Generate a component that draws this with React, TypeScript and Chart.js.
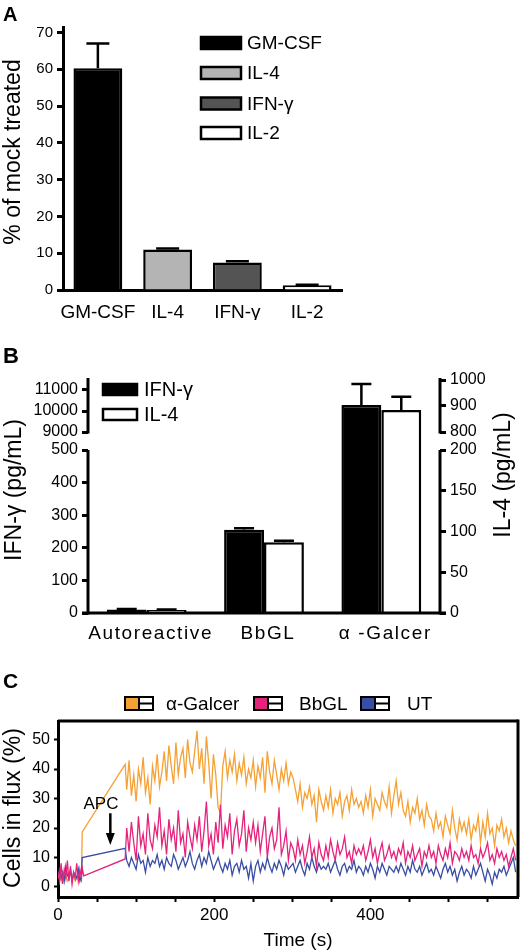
import React, { useEffect, useRef } from "react";
import { Chart, registerables } from "chart.js";

Chart.register(...registerables);

const FONT = "'Liberation Sans', Arial, Helvetica, sans-serif";
Chart.defaults.font.family = FONT;
Chart.defaults.color = "#000";

/* ---------------- Panel A data ---------------- */
const aCategories = ["GM-CSF", "IL-4", "IFN-γ", "IL-2"];
const aValues = [60.3, 11.0, 7.5, 1.3];
const aErrors = [6.7, 0.3, 0.3, 0.1];
const aYTicks = [0, 10, 20, 30, 40, 50, 60, 70];
const aColors = ["#000000", "#b4b4b4", "#545454", "#ffffff"];

/* ---------------- Panel B data ---------------- */
const bCategories = ["Autoreactive", "BbGL", "α -Galcer"];
const bSeries = ["IFN-γ", "IL-4"];
const bIfn = [11, 255, 10290];
const bIfnErr = [1, 5, 1000];
const bIl4 = [3.7, 86.7, 885];
const bIl4Err = [0.5, 2, 51];
const bLeftTicks = [0, 100, 200, 300, 400, 500, 9000, 10000, 11000];
const bRightTicks = [0, 50, 100, 150, 200, 800, 900, 1000];

/* ---------------- Panel C data ---------------- */
const cSeries = ["α-Galcer", "BbGL", "UT"];
const cXTicks = [0, 50, 100, 150, 200, 250, 300, 350, 400, 450, 500, 550];
const cXTickLabels = ["0", "", "", "", "200", "", "", "", "400", "", "", ""];
const cYTicks = [0, 10, 20, 30, 40, 50];
const baselineStep = 2; // s, samples from t = 0
const responseStart = 88; // s
const responseStep = 3; // s

const galBase = [3, 4, 2, 5, 3, 4, 2, 3, 5, 3, 4, 2, 3, 4, 3, 2];
const bbBase = [5, 2, 8, 1, 6, 3, 9, 2, 7, 1, 5, 3, 8, 2, 6, 3];
const utBase = [4, 6, 3, 5, 2, 7, 4, 3, 6, 2, 5, 4, 3, 6, 2, 4];

const galApcTimes = [31, 86];
const galApcValues = [18.7, 41.6];
const bbApcTimes = [31, 33, 86];
const bbApcValues = [6.5, 3.8, 9.5];
const utApcTimes = [31, 86];
const utApcValues = [10, 13.1];

const galResp = [
  33, 43, 31, 38, 29, 40, 35, 44, 32, 37, 28, 41, 36, 45, 34,
  39, 46, 36, 48, 41, 35, 49, 38, 44, 47, 37, 50, 42, 39, 46,
  53, 40, 47, 35, 51, 42, 30, 45, 38, 27,
  25, 41, 46, 37, 43, 39, 45, 36, 42, 38, 44, 35, 40, 37, 43,
  34, 41, 37, 44, 32, 46, 39, 35, 43, 38, 33, 40, 36, 42, 35, 39,
  37, 33, 29, 35, 27, 32, 30, 34, 28, 31, 22, 33, 29, 26,
  31, 27, 33, 25, 30, 28, 32, 24, 29, 31, 26, 33, 28, 30, 27,
  29, 25, 31, 27, 33, 24, 30, 28, 26, 32, 29, 27, 34, 25, 31,
  36, 28, 32, 26, 24, 29, 22, 27, 25, 30, 23, 26, 21, 28, 24,
  23, 19, 25, 20, 22, 17, 24, 21, 18, 26, 20, 16, 23, 19, 22,
  18, 23, 16, 21, 19, 24, 15, 22, 17, 25, 18, 20, 14, 21, 19,
  23, 17, 20, 15, 19, 16, 14,
];
const bbResp = [
  20, 12, 22, 15, 9, 24, 14, 18, 11, 25, 16, 13, 21, 17, 27,
  14, 19, 11, 23, 16, 20, 12, 26, 15, 18, 10, 22, 17, 13, 21,
  16, 24, 12, 19, 29, 14, 18, 11, 22, 15,
  28, 13, 21, 17, 25, 11, 19, 23, 14, 18, 26, 12, 20, 16, 22,
  15, 21, 12, 18, 24, 10, 17, 20, 13, 16, 27, 11, 14, 19, 9, 15,
  13, 9, 16, 11, 14, 8, 12, 17, 10, 13, 7, 15, 11, 9,
  14, 10, 16, 12, 9, 15, 11, 13, 17, 10, 12, 8, 14, 11, 13,
  11, 14, 9, 12, 16, 10, 13, 8, 12, 15, 9, 11, 14, 10, 12,
  9, 13, 11, 15, 8, 12, 10, 14, 9, 11, 13, 7, 12, 10, 14,
  10, 12, 8, 14, 11, 9, 13, 10, 15, 8, 12, 11, 9, 13, 10,
  12, 9, 14, 10, 11, 8, 13, 10, 12, 15, 9, 11, 8, 13, 10,
  12, 9, 11, 7, 10, 13, 9,
];
const utResp = [
  9, 7, 10, 8, 6, 11, 8, 9, 5, 10, 7, 9, 8, 11, 7,
  9, 6, 10, 8, 7, 11, 9, 6, 8, 10, 7, 9, 12, 8, 6,
  9, 11, 7, 10, 8, 12, 9, 6, 8, 10,
  7, 5, 8, 6, 9, 4, 7, 8, 5, 9, 6, 7, 3, 8, 2,
  7, 9, 5, 8, 6, 10, 7, 5, 8, 6, 9, 7, 4, 8, 6, 7,
  8, 5, 7, 9, 6, 4, 8, 6, 10, 7, 5, 8, 6, 7,
  6, 8, 5, 7, 9, 6, 4, 7, 8, 5, 7, 6, 9, 5, 7,
  6, 4, 7, 5, 8, 6, 3, 7, 5, 8, 6, 4, 7, 6, 5,
  7, 5, 8, 6, 4, 7, 5, 9, 6, 5, 7, 4, 6, 8, 5,
  6, 4, 7, 5, 3, 6, 8, 5, 7, 4, 6, 2, 5, 7, 4,
  6, 5, 3, 7, 4, 6, 8, 5, 2, 6, 4, 1, 5, 3, 6,
  5, 7, 4, 6, 8, 10, 5,
];

// APC annotation (data units)
const apcLabel = "APC";
const apcLabelTime = 55;
const apcLabelValue = 28;
const apcArrowTime = 67;
const apcArrowFrom = 25;
const apcArrowTo = 14.2;

/* ---------------- styles ---------------- */
const cColors = ["#F5A134", "#E5237C", "#3A4DA5"];
const cOrder = [2, 0, 1];

/* ---------------- helpers ---------------- */
// Panel B broken axis: virtual scale positions (px above baseline)
const B_LOW_TOP = 163;
const B_UP_BOTTOM = 181;
const B_VMAX = 235;
const leftToV = (v: number) =>
  v <= 500 ? (v / 500) * B_LOW_TOP : B_UP_BOTTOM + ((v - 9000) / 1000) * 21;
const rightToV = (v: number) =>
  v <= 200 ? (v / 200) * B_LOW_TOP : B_UP_BOTTOM + ((v - 800) / 100) * 26;

function buildSeries(base: number[], apcT: number[], apcV: number[], resp: number[]) {
  const pts: { x: number; y: number }[] = [];
  base.forEach((v, i) => pts.push({ x: i * baselineStep, y: v }));
  apcT.forEach((t, i) => pts.push({ x: t, y: apcV[i] }));
  resp.forEach((v, i) => pts.push({ x: responseStart + i * responseStep, y: v }));
  return pts;
}

type TextItem = { text: string; x: number; y: number; rot?: number; size: number; align?: CanvasTextAlign; baseline?: CanvasTextBaseline };
const textPlugin = (id: string, items: TextItem[]) => ({
  id,
  afterDraw(chart: any) {
    const ctx = chart.ctx as CanvasRenderingContext2D;
    items.forEach((it) => {
      ctx.save();
      ctx.translate(it.x, it.y);
      ctx.rotate(it.rot || 0);
      ctx.font = `${it.size}px ${FONT}`;
      ctx.fillStyle = "#000";
      ctx.textAlign = it.align || "center";
      ctx.textBaseline = it.baseline || "alphabetic";
      ctx.fillText(it.text, 0, 0);
      ctx.restore();
    });
  },
});

const errorBarPlugin = {
  id: "errbars",
  afterDatasetsDraw(chart: any) {
    const ctx = chart.ctx as CanvasRenderingContext2D;
    chart.data.datasets.forEach((ds: any, di: number) => {
      if (!ds.errTop) return;
      const meta = chart.getDatasetMeta(di);
      const scale = chart.scales[meta.yAxisID];
      meta.data.forEach((bar: any, i: number) => {
        const top = ds.errTop[i];
        if (top == null) return;
        const yTop = scale.getPixelForValue(top);
        const cap = ds.errCap || 20;
        ctx.save();
        ctx.strokeStyle = "#000";
        ctx.lineWidth = 2.5;
        ctx.beginPath();
        ctx.moveTo(bar.x, bar.y);
        ctx.lineTo(bar.x, yTop);
        ctx.moveTo(bar.x - cap / 2, yTop);
        ctx.lineTo(bar.x + cap / 2, yTop);
        ctx.stroke();
        ctx.restore();
      });
    });
  },
};

function line(ctx: CanvasRenderingContext2D, x1: number, y1: number, x2: number, y2: number) {
  ctx.beginPath();
  ctx.moveTo(x1, y1);
  ctx.lineTo(x2, y2);
  ctx.stroke();
}

/* ---------------- Panel A ---------------- */
function makeA(canvas: HTMLCanvasElement) {
  const legendA = {
    id: "legendA",
    afterDraw(chart: any) {
      const ctx = chart.ctx as CanvasRenderingContext2D;
      const ds = chart.data.datasets[0];
      const tops = [37, 67, 97.5, 127];
      chart.data.labels.forEach((lab: string, i: number) => {
        ctx.save();
        ctx.fillStyle = ds.backgroundColor[i];
        ctx.fillRect(201, tops[i], 40, 12);
        ctx.strokeStyle = "#000";
        ctx.lineWidth = 2.5;
        ctx.strokeRect(201, tops[i], 40, 12);
        ctx.fillStyle = "#000";
        ctx.font = `19px ${FONT}`;
        ctx.textAlign = "left";
        ctx.textBaseline = "middle";
        ctx.fillText(lab, 247, tops[i] + 7);
        ctx.restore();
      });
    },
  };
  return new Chart(canvas, {
    type: "bar",
    data: {
      labels: aCategories,
      datasets: [
        {
          data: aValues,
          backgroundColor: aColors,
          borderColor: "#000",
          borderWidth: 2.5,
          barPercentage: 0.7,
          categoryPercentage: 1,
          errTop: aValues.map((v, i) => v + aErrors[i]),
          errCap: 23,
        } as any,
      ],
    },
    options: {
      responsive: false,
      animation: false,
      layout: { padding: { left: 0, right: 178, top: 27, bottom: 0 } },
      plugins: { legend: { display: false }, tooltip: { enabled: false } },
      scales: {
        x: {
          grid: { display: false, drawTicks: false },
          border: { display: true, color: "#000", width: 3 },
          ticks: { color: "#000", font: { size: 19 }, padding: 11, autoSkip: false, maxRotation: 0 },
          afterFit: (s: any) => {
            s.height = 30;
          },
        },
        y: {
          min: 0,
          max: 71.5,
          afterBuildTicks: (s: any) => {
            s.ticks = aYTicks.map((v) => ({ value: v }));
          },
          grid: { drawOnChartArea: false, drawTicks: true, tickLength: 6, tickWidth: 3, color: "#000" },
          border: { display: true, color: "#000", width: 3 },
          ticks: { color: "#000", font: { size: 15 }, padding: 4, autoSkip: false },
          afterFit: (s: any) => {
            s.width = 63;
          },
        },
      },
    },
    plugins: [
      errorBarPlugin,
      legendA,
      textPlugin("titlesA", [{ text: "% of mock treated", x: 20, y: 152, rot: -Math.PI / 2, size: 23 }]),
    ],
  });
}

/* ---------------- Panel B ---------------- */
function makeB(canvas: HTMLCanvasElement) {
  const brokenAxes = {
    id: "brokenAxes",
    afterDraw(chart: any) {
      const ctx = chart.ctx as CanvasRenderingContext2D;
      const { chartArea } = chart;
      const yL = chart.scales.yL;
      ctx.save();
      ctx.strokeStyle = "#000";
      ctx.lineWidth = 3;
      const segs = [
        [0, B_LOW_TOP],
        [B_UP_BOTTOM, B_VMAX],
      ];
      segs.forEach(([a, b]) => {
        line(ctx, chartArea.left, yL.getPixelForValue(a) + 1.5, chartArea.left, yL.getPixelForValue(b));
        line(ctx, chartArea.right, yL.getPixelForValue(a) + 1.5, chartArea.right, yL.getPixelForValue(b));
      });
      line(ctx, chartArea.left - 6, chartArea.bottom, chartArea.right + 6, chartArea.bottom);
      ctx.restore();
    },
  };
  const categoryLabels = {
    id: "categoryLabelsB",
    afterDraw(chart: any) {
      const ctx = chart.ctx as CanvasRenderingContext2D;
      const xs = chart.scales.x;
      ctx.save();
      ctx.fillStyle = "#000";
      ctx.font = `19px ${FONT}`;
      (ctx as any).letterSpacing = "1.6px";
      ctx.textAlign = "center";
      ctx.textBaseline = "alphabetic";
      chart.data.labels.forEach((lab: string, i: number) => {
        ctx.fillText(lab, xs.getPixelForTick(i) + 4, chart.chartArea.bottom + 26);
      });
      ctx.restore();
    },
  };
  const legendB = {
    id: "legendB",
    afterDraw(chart: any) {
      const ctx = chart.ctx as CanvasRenderingContext2D;
      const tops = [64, 89];
      chart.data.datasets.forEach((ds: any, i: number) => {
        ctx.save();
        ctx.fillStyle = ds.backgroundColor;
        ctx.fillRect(103, tops[i], 34, 11);
        ctx.strokeStyle = "#000";
        ctx.lineWidth = 2.5;
        ctx.strokeRect(103, tops[i], 34, 11);
        ctx.fillStyle = "#000";
        ctx.font = `20px ${FONT}`;
        ctx.textAlign = "left";
        ctx.textBaseline = "middle";
        ctx.fillText(ds.label, 144, tops[i] + 6.5);
        ctx.restore();
      });
    },
  };
  const yCommon = (ticks: number[], map: (v: number) => number, width: number, position: "left" | "right") => ({
    position,
    min: 0,
    max: B_VMAX,
    afterBuildTicks: (s: any) => {
      s.ticks = ticks.map((v) => ({ value: map(v) }));
    },
    ticks: {
      autoSkip: false,
      color: "#000",
      font: { size: 16 },
      padding: 4,
      callback: (_v: any, i: number) => String(ticks[i]),
    },
    grid: { drawOnChartArea: false, drawTicks: true, tickLength: 6, tickWidth: 3, color: "#000" },
    border: { display: false },
    afterFit: (s: any) => {
      s.width = width;
    },
  });
  return new Chart(canvas, {
    type: "bar",
    data: {
      labels: bCategories,
      datasets: [
        {
          label: bSeries[0],
          data: bIfn.map(leftToV),
          yAxisID: "yL",
          backgroundColor: "#000",
          borderColor: "#000",
          borderWidth: 2.5,
          barPercentage: 1,
          categoryPercentage: 0.68,
          errTop: bIfn.map((v, i) => leftToV(v + bIfnErr[i])),
          errCap: 20,
        } as any,
        {
          label: bSeries[1],
          data: bIl4.map(rightToV),
          yAxisID: "yR",
          backgroundColor: "#fff",
          borderColor: "#000",
          borderWidth: 2.5,
          barPercentage: 1,
          categoryPercentage: 0.68,
          errTop: bIl4.map((v, i) => rightToV(v + bIl4Err[i])),
          errCap: 20,
        } as any,
      ],
    },
    options: {
      responsive: false,
      animation: false,
      layout: { padding: { left: 0, right: 0, top: 58, bottom: 0 } },
      plugins: { legend: { display: false }, tooltip: { enabled: false } },
      scales: {
        x: {
          grid: { display: false, drawTicks: false },
          border: { display: false },
          ticks: { display: false },
          afterFit: (s: any) => {
            s.height = 37;
          },
        },
        yL: yCommon(bLeftTicks, leftToV, 88, "left") as any,
        yR: yCommon(bRightTicks, rightToV, 80, "right") as any,
      },
    },
    plugins: [
      errorBarPlugin,
      brokenAxes,
      categoryLabels,
      legendB,
      textPlugin("titlesB", [
        { text: "IFN-γ (pg/mL)", x: 21, y: 170, rot: -Math.PI / 2, size: 23 },
        { text: "IL-4 (pg/mL)", x: 510, y: 155, rot: -Math.PI / 2, size: 23 },
      ]),
    ],
  });
}

/* ---------------- Panel C ---------------- */
function makeC(canvas: HTMLCanvasElement) {
  const frame = {
    id: "frameC",
    afterDraw(chart: any) {
      const ctx = chart.ctx as CanvasRenderingContext2D;
      const { chartArea } = chart;
      ctx.save();
      ctx.strokeStyle = "#000";
      ctx.lineWidth = 3;
      line(ctx, chartArea.left, chartArea.top, chartArea.right, chartArea.top);
      line(ctx, chartArea.right, chartArea.top - 1.5, chartArea.right, chartArea.bottom);
      ctx.restore();
    },
  };
  const legendC = {
    id: "legendC",
    afterDraw(chart: any) {
      const ctx = chart.ctx as CanvasRenderingContext2D;
      const iconX = [125, 254, 361];
      const textX = [166, 299, 407];
      const w = 28;
      const h = 13;
      const top = 47;
      chart.data.datasets.forEach((ds: any, i: number) => {
        const x = iconX[i];
        ctx.save();
        ctx.fillStyle = ds.borderColor;
        ctx.fillRect(x, top, w / 2, h);
        ctx.fillStyle = "#fff";
        ctx.fillRect(x + w / 2, top, w / 2, h);
        ctx.strokeStyle = "#000";
        ctx.lineWidth = 2;
        ctx.strokeRect(x, top, w, h);
        line(ctx, x + w / 2, top, x + w / 2, top + h);
        line(ctx, x + w / 2, top + h / 2, x + w, top + h / 2);
        ctx.fillStyle = "#000";
        ctx.font = `19px ${FONT}`;
        ctx.textAlign = "left";
        ctx.textBaseline = "middle";
        ctx.fillText(ds.label, textX[i], top + h / 2 + 1);
        ctx.restore();
      });
    },
  };
  const apc = {
    id: "apc",
    afterDraw(chart: any) {
      const ctx = chart.ctx as CanvasRenderingContext2D;
      const xs = chart.scales.x;
      const ys = chart.scales.y;
      ctx.save();
      ctx.fillStyle = "#000";
      ctx.strokeStyle = "#000";
      ctx.font = `17px ${FONT}`;
      ctx.textAlign = "center";
      ctx.textBaseline = "middle";
      ctx.fillText(apcLabel, xs.getPixelForValue(apcLabelTime), ys.getPixelForValue(apcLabelValue));
      const ax = xs.getPixelForValue(apcArrowTime);
      const y1 = ys.getPixelForValue(apcArrowFrom);
      const y2 = ys.getPixelForValue(apcArrowTo);
      ctx.lineWidth = 2.5;
      line(ctx, ax, y1, ax, y2 - 8);
      ctx.beginPath();
      ctx.moveTo(ax - 4.5, y2 - 12);
      ctx.lineTo(ax + 4.5, y2 - 12);
      ctx.lineTo(ax, y2);
      ctx.closePath();
      ctx.fill();
      ctx.restore();
    },
  };
  const series = [
    buildSeries(galBase, galApcTimes, galApcValues, galResp),
    buildSeries(bbBase, bbApcTimes, bbApcValues, bbResp),
    buildSeries(utBase, utApcTimes, utApcValues, utResp),
  ];
  return new Chart(canvas, {
    type: "line",
    data: {
      datasets: cSeries.map((label, k) => ({
        label,
        data: series[k],
        borderColor: cColors[k],
        backgroundColor: cColors[k],
        borderWidth: 1.3,
        pointRadius: 0,
        tension: 0,
        order: cOrder[k],
      })),
    },
    options: {
      responsive: false,
      animation: false,
      layout: { padding: { left: 0, right: 2, top: 71, bottom: 0 } },
      plugins: { legend: { display: false }, tooltip: { enabled: false } },
      scales: {
        x: {
          type: "linear",
          min: 0,
          max: 589,
          afterBuildTicks: (s: any) => {
            s.ticks = cXTicks.map((v) => ({ value: v }));
          },
          ticks: {
            autoSkip: false,
            maxRotation: 0,
            color: "#000",
            font: { size: 17 },
            padding: 3,
            callback: (_v: any, i: number) => cXTickLabels[i],
          },
          grid: { drawOnChartArea: false, drawTicks: true, tickLength: 5, tickWidth: 2, color: "#000" },
          border: { display: true, color: "#000", width: 3 },
          afterFit: (s: any) => {
            s.height = 55;
          },
        },
        y: {
          min: -3.4,
          max: 56.3,
          afterBuildTicks: (s: any) => {
            s.ticks = cYTicks.map((v) => ({ value: v }));
          },
          ticks: { autoSkip: false, color: "#000", font: { size: 16 }, padding: 4 },
          grid: { drawOnChartArea: false, drawTicks: true, tickLength: 4, tickWidth: 2, color: "#000" },
          border: { display: true, color: "#000", width: 3 },
          afterFit: (s: any) => {
            s.width = 58;
          },
        },
      },
    },
    plugins: [
      frame,
      legendC,
      apc,
      textPlugin("titlesC", [
        { text: "Cells in flux (%)", x: 20, y: 158, rot: -Math.PI / 2, size: 23 },
        { text: "Time (s)", x: 298, y: 296, size: 19 },
      ]),
    ],
  });
}

export default function App() {
  const aRef = useRef<HTMLCanvasElement>(null);
  const bRef = useRef<HTMLCanvasElement>(null);
  const cRef = useRef<HTMLCanvasElement>(null);

  useEffect(() => {
    document.body.style.margin = "0";
    const charts = [makeA(aRef.current!), makeB(bRef.current!), makeC(cRef.current!)];
    return () => charts.forEach((c) => c.destroy());
  }, []);

  const letter = (t: string, top: number, size: number) => (
    <div
      style={{
        position: "absolute",
        left: 3,
        top,
        fontFamily: FONT,
        fontWeight: "bold",
        fontSize: size,
        lineHeight: 1,
        color: "#000",
      }}
    >
      {t}
    </div>
  );

  return (
    <div style={{ position: "absolute", left: 0, top: 0, width: 520, height: 952, background: "#fff", overflow: "hidden" }}>
      <canvas ref={aRef} width={520} height={320} style={{ position: "absolute", left: 0, top: 0 }} />
      <canvas ref={bRef} width={520} height={330} style={{ position: "absolute", left: 0, top: 320 }} />
      <canvas ref={cRef} width={520} height={302} style={{ position: "absolute", left: 0, top: 650 }} />
      {letter("A", 4, 20)}
      {letter("B", 345, 22)}
      {letter("C", 670, 21)}
    </div>
  );
}
